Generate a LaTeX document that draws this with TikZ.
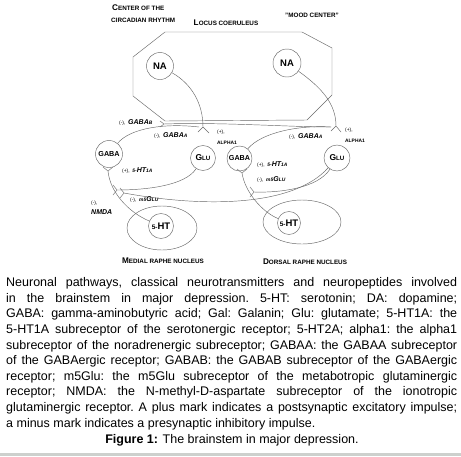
\documentclass[tikz,border=0pt]{standalone}
\usepackage{fontspec}
\setmainfont{Liberation Sans}
\definecolor{barc}{RGB}{205,208,205}
\definecolor{lnc}{RGB}{105,105,105}
\newcommand\sgn[1]{{\fontsize{4.9}{5}\selectfont #1}}
\newcommand\rcp[1]{{\fontsize{7}{7}\selectfont\bfseries\itshape #1}}
\newcommand\sbs[1]{{\fontsize{4.9}{5}\selectfont #1}}
\newcommand\nodeNA{{\fontsize{9.5}{10}\selectfont\bfseries NA}}
\newcommand\nodeGABA{{\fontsize{7.2}{8}\selectfont\bfseries GABA}}
\newcommand\nodeGLU{{\bfseries\fontsize{8.5}{9}\selectfont G\fontsize{6.2}{7}\selectfont LU}}
\newcommand\nodeHT{{\bfseries\fontsize{6.5}{7}\selectfont 5-\fontsize{9.5}{10}\selectfont HT}}
\newcommand\scl[2]{{\bfseries\fontsize{8.2}{8}\selectfont #1\fontsize{6.3}{7}\selectfont #2}}
\begin{document}
\begin{tikzpicture}[x=1pt,y=-1pt,
  ln/.style={draw=lnc,line width=0.45pt},
  cell/.style={circle,draw=lnc,line width=0.45pt,inner sep=0pt},
  lab/.style={inner sep=0pt,anchor=west},
  ttl/.style={inner sep=0pt}]
\useasboundingbox (0,0) rectangle (461,456);
\fill[white] (0,0) rectangle (461,456);

% titles
\node[ttl,anchor=west] (t1) at (112,8) {\scl{C}{ENTER OF THE}};
\node[ttl,anchor=west] (t2) at (111,20) {\scl{}{CIRCADIAN RHYTHM}};
\node[ttl] (t3) at (226,23) {\scl{L}{OCUS COERULEUS}};
\node[ttl] (t4) at (312,15) {\scl{}{"MOOD CENTER"}};

% locus coeruleus octagon
\draw[ln] (165,32) -- (302,32) -- (332,48) -- (332,95) -- (307,120) -- (165,121) -- (133,96) -- (133,57) -- cycle;

% raphe ellipses
\draw[ln] (162,228) ellipse [x radius=35, y radius=22];
\draw[ln] (302,222) ellipse [x radius=39, y radius=22];

% neurons
\node[cell,minimum size=27pt] (naL) at (160,66) {\nodeNA};
\node[cell,minimum size=28pt] (naR) at (287,63) {\nodeNA};
\node[cell,minimum size=27pt] (gabaL) at (109,154) {\nodeGABA};
\node[cell,minimum size=25pt] (gluL) at (203,158) {\nodeGLU};
\node[cell,minimum size=25pt] (gabaR) at (239.5,158.5) {\nodeGABA};
\node[cell,minimum size=26pt] (gluR) at (337,158) {\nodeGLU};
\node[cell,minimum size=25pt] (htL) at (161,226) {\nodeHT};
\node[cell,minimum size=23pt] (htR) at (289,223) {\nodeHT};

% terminal points
\coordinate (fNAL) at (203,127);
\coordinate (fNAR) at (336,126);
\coordinate (fGAL) at (199,127);
\coordinate (fGAR) at (331,127);
\coordinate (fB) at (164,124);
\coordinate (f5L) at (108,171);
\coordinate (f5R) at (242,173);
\coordinate (fNM) at (117,190);
\coordinate (fM5L) at (124,193);
\coordinate (fM5R) at (254,192);

\newcommand\fk[3]{\draw[ln] (#1) -- ++(#2) (#1) -- ++(#3);}

% NA projections
\draw[ln] (naL) .. controls (192,84) and (203,104) .. (fNAL);
\fk{fNAL}{-5,5}{6,6}
\draw[ln] (naR) .. controls (322,88) and (336,104) .. (fNAR);
\fk{fNAR}{-5,5}{5,6}

% GABA projections
\draw[ln] (gabaL) .. controls (130,128) and (165,123) .. (fGAL);
\draw[ln] (fB) .. controls (220,122) and (290,127) .. (fGAR);
\fk{fB}{-4,-3}{-4,3}
\draw[ln] (gabaR) .. controls (262,132) and (300,125) .. (fGAR);

% 5-HT projections
\draw[ln] (htL) .. controls (128,212) and (110,192) .. (f5L);
\fk{f5L}{-5,-4}{5,-4}
\draw[ln] (htR) .. controls (262,212) and (245,192) .. (f5R);
\fk{f5R}{-5,-4}{5,-4}

% Glu projections
\draw[ln] (gluL) .. controls (185,186) and (145,190) .. (fNM);
\fk{fNM}{-4,-5}{-4,5}
\draw[ln] (gluR) .. controls (292,208) and (200,207) .. (fM5L);
\fk{fM5L}{-4,-5}{-4,5}
\draw[ln] (gluR) .. controls (318,188) and (280,193) .. (fM5R);
\fk{fM5R}{-4,-5}{-4,5}

% receptor labels
\node[lab] (lb1) at (119,123) {\sgn{(-),} \rcp{GABA\sbs{B}}};
\node[lab] (lb2) at (154,136) {\sgn{(-),} \rcp{GABA\sbs{A}}};
\node[lab,align=left] (lb3) at (217,137) {\sgn{(+),}\\[-1.5pt]\sgn{\bfseries ALPHA1}};
\node[lab] (lb4) at (122,171) {\sgn{(+),} \rcp{\sbs{5-}HT\sbs{1A}}};
\node[lab] (lb5) at (130,200) {\sgn{(-),} \rcp{\sbs{m5}G\sbs{LU}}};
\node[lab,align=left] (lb6) at (91,207.5) {\sgn{(-),}\\[-1.5pt]\rcp{NMDA}};
\node[lab] (lb7) at (289,137) {\sgn{(-),} \rcp{GABA\sbs{A}}};
\node[lab,align=left] (lb8) at (345,135) {\sgn{(+),}\\[-1.5pt]\sgn{\bfseries ALPHA1}};
\node[lab] (lb9) at (257,165) {\sgn{(+),} \rcp{\sbs{5-}HT\sbs{1A}}};
\node[lab] (lb10) at (257,180) {\sgn{(-),} \rcp{\sbs{m5}G\sbs{LU}}};

\node[ttl] (t5) at (163,261) {\scl{M}{EDIAL RAPHE NUCLEUS}};
\node[ttl] (t6) at (305,262) {\scl{D}{ORSAL RAPHE NUCLEUS}};

% caption
\node[inner sep=0pt,anchor=north west,text width=451pt,align=justify] (cap) at (6,277.5)
{\fontsize{12.5}{15.6}\selectfont\frenchspacing\hyphenpenalty=10000\exhyphenpenalty=10000
Neuronal pathways, classical neurotransmitters and neuropeptides involved\linebreak
in the brainstem in major depression. 5-HT: serotonin; DA: dopamine;\linebreak
GABA: gamma-aminobutyric acid; Gal: Galanin; Glu: glutamate; 5-HT1A: the\linebreak
5-HT1A subreceptor of the serotonergic receptor; 5-HT2A; alpha1: the alpha1\linebreak
subreceptor of the noradrenergic subreceptor; GABAA: the GABAA subreceptor\linebreak
of the GABAergic receptor; GABAB: the GABAB subreceptor of the GABAergic\linebreak
receptor; m5Glu: the m5Glu subreceptor of the metabotropic glutaminergic\linebreak
receptor; NMDA: the N-methyl-D-aspartate subreceptor of the ionotropic\linebreak
glutaminergic receptor. A plus mark indicates a postsynaptic excitatory impulse;\linebreak
a minus mark indicates a presynaptic inhibitory impulse.\par};
\node[inner sep=0pt,anchor=base] (fig) at (232,443.5)
{\fontsize{12.5}{14}\selectfont\textbf{Figure 1:} The brainstem in major depression.};

\fill[barc] (0,452.5) rectangle (461,456);
\end{tikzpicture}
\end{document}
